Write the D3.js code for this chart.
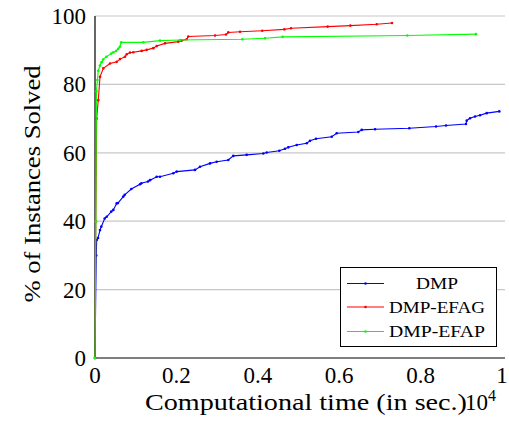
<!DOCTYPE html>
<html>
<head>
<meta charset="utf-8">
<script src="https://cdn.jsdelivr.net/npm/d3@7"></script>
<style>
  body { margin: 0; background: #fff; }
</style>
</head>
<body>
<div id="root"></div>
<script>
// time in seconds, share of instances solved in %
const dmpTime = [0, 30, 42, 74, 123, 155, 238, 287, 400, 450, 533, 565, 695, 730, 892,
  1106, 1138, 1302, 1351, 1516, 1597, 1924, 2007, 2457, 2580, 2826, 2990, 3275, 3398, 3727,
  4135, 4219, 4528, 4668, 4749, 4956, 5202, 5283, 5430, 5816, 5939, 6469, 6553, 6880, 7722,
  8378, 8624, 9115, 9133, 9214, 9337, 9460, 9624, 9934];
const dmpSolved = [0, 30, 34.5, 35.1, 37.4, 38.4, 40.8, 41.3, 42.8, 43.3, 45.2, 45.3,
  47.2, 47.7, 49.4, 50.8, 51.1, 51.6, 52.0, 53.0, 53.0, 54.0, 54.5, 55.0, 55.9, 56.9, 57.4,
  57.9, 59.1, 59.4, 59.8, 60.1, 60.6, 61.2, 61.6, 62.3, 62.8, 63.5, 64.1, 64.7, 65.7, 66.1,
  66.7, 66.9, 67.2, 67.7, 68.0, 68.4, 69.4, 70.1, 70.6, 71.0, 71.6, 72.1];

const efagTime = [0, 20, 40, 81, 123, 204, 369, 533, 614, 737, 779, 860, 941, 1147, 1270, 1432,
  1516, 1720, 2047, 2130, 2253, 2292, 2948, 3219, 3275, 3563, 4110, 4651, 4816, 5717, 6273,
  6921, 7297];
const efagSolved = [0, 40, 70, 75.4, 82.2, 84.7, 86.1, 86.6, 87.4, 88.1, 88.8, 89.3, 89.4, 89.8,
  90.1, 90.6, 91.2, 92.0, 92.5, 92.8, 93.2, 94.0, 94.3, 94.6, 95.2, 95.4, 95.7, 96.1, 96.4,
  96.9, 97.2, 97.6, 97.95];

const efapTime = [0, 20, 35, 60, 80, 120, 160, 200, 280, 400, 450, 520, 570, 610, 646, 1187,
  1597, 2088, 3619, 4177, 4612, 7673, 9361];
const efapSolved = [0, 40, 78, 81.3, 84.0, 85.5, 86.5, 87.3, 88.1, 89.0, 89.4, 89.8, 90.4, 91.0,
  92.3, 92.3, 92.8, 93.0, 93.2, 93.5, 93.9, 94.3, 94.7];

const seriesNames = ['DMP', 'DMP-EFAG', 'DMP-EFAP'];
const seriesColors = ['#0000ff', '#ff0000', '#00ff00'];
const xTicks = [0, 2000, 4000, 6000, 8000, 10000];
const xTickLabels = ['0', '0.2', '0.4', '0.6', '0.8', '1'];
const yTicks = [0, 20, 40, 60, 80, 100];

const FONT = "Liberation Serif";
const W = 509, H = 427;
const svg = d3.select('#root').append('svg')
  .attr('width', W)
  .attr('height', H)
  .style('font-family', FONT);

const x = d3.scaleLinear().domain([0, 10000]).range([95, 502]);
const y = d3.scaleLinear().domain([0, 100]).range([358, 16]);

// grid
svg.append('g').selectAll('line')
  .data(yTicks.slice(1))
  .join('line')
  .attr('x1', 95).attr('x2', 505)
  .attr('y1', d => y(d)).attr('y2', d => y(d))
  .style('stroke', '#c8c8c8')
  .style('stroke-width', 1.2);

// axes lines
svg.append('line').attr('x1', 95).attr('x2', 95).attr('y1', 16).attr('y2', 358)
  .style('stroke', '#000').style('stroke-width', 1.2);
svg.append('line').attr('x1', 95).attr('x2', 505).attr('y1', 358).attr('y2', 358)
  .style('stroke', '#000').style('stroke-width', 1.2);

// tick labels
svg.append('g').selectAll('text')
  .data(yTicks)
  .join('text')
  .attr('x', 86)
  .attr('y', d => y(d) + 8)
  .attr('text-anchor', 'end')
  .style('font-family', FONT)
  .style('font-size', '23px')
  .text(d => d);

svg.append('g').selectAll('text')
  .data(xTicks)
  .join('text')
  .attr('x', d => x(d))
  .attr('y', 383)
  .attr('text-anchor', 'middle')
  .style('font-family', FONT)
  .style('font-size', '23px')
  .text((d, i) => xTickLabels[i]);

// axis titles
svg.append('text')
  .attr('transform', 'translate(40,184) rotate(-90)')
  .attr('text-anchor', 'middle')
  .attr('textLength', 237)
  .attr('lengthAdjust', 'spacingAndGlyphs')
  .style('font-family', FONT)
  .style('font-size', '23px')
  .text('% of Instances Solved');

svg.append('text')
  .attr('x', 145)
  .attr('y', 410)
  .attr('textLength', 322)
  .attr('lengthAdjust', 'spacingAndGlyphs')
  .style('font-family', FONT)
  .style('font-size', '23px')
  .text('Computational time (in sec.)');

const exp = svg.append('text')
  .attr('x', 465)
  .attr('y', 410)
  .style('font-family', FONT)
  .style('font-size', '23px');
exp.append('tspan').text('10');
exp.append('tspan').attr('dy', -9).style('font-size', '16px').text('4');

// series
const series = [
  { t: dmpTime, v: dmpSolved },
  { t: efagTime, v: efagSolved },
  { t: efapTime, v: efapSolved }
];
const line = d3.line().x(d => x(d[0])).y(d => y(d[1]));

series.forEach((s, i) => {
  const pts = s.t.map((t, j) => [t, s.v[j]]);
  const g = svg.append('g');
  g.append('path')
    .datum(pts)
    .attr('d', line)
    .style('fill', 'none')
    .style('stroke', seriesColors[i])
    .style('stroke-width', 1.1);
  g.selectAll('circle')
    .data(pts)
    .join('circle')
    .attr('cx', d => x(d[0]))
    .attr('cy', d => y(d[1]))
    .attr('r', 1.3)
    .style('fill', seriesColors[i]);
});

// legend
const leg = svg.append('g');
leg.append('rect')
  .attr('x', 340.5).attr('y', 267.5)
  .attr('width', 156).attr('height', 79)
  .style('fill', '#fff')
  .style('stroke', '#000')
  .style('stroke-width', 1);
const legRows = [283.5, 307, 331.5];
seriesNames.forEach((name, i) => {
  leg.append('line')
    .attr('x1', 347).attr('x2', 384)
    .attr('y1', legRows[i]).attr('y2', legRows[i])
    .style('stroke', seriesColors[i])
    .style('stroke-width', 1.1);
  leg.append('circle')
    .attr('cx', 365.5).attr('cy', legRows[i]).attr('r', 1.3)
    .style('fill', seriesColors[i]);
  leg.append('text')
    .attr('x', 437)
    .attr('y', legRows[i] + 5.5)
    .attr('text-anchor', 'middle')
    .attr('textLength', name === 'DMP' ? 42 : 96)
    .attr('lengthAdjust', 'spacingAndGlyphs')
    .style('font-family', FONT)
    .style('font-size', '17px')
    .text(name);
});
</script>
</body>
</html>
